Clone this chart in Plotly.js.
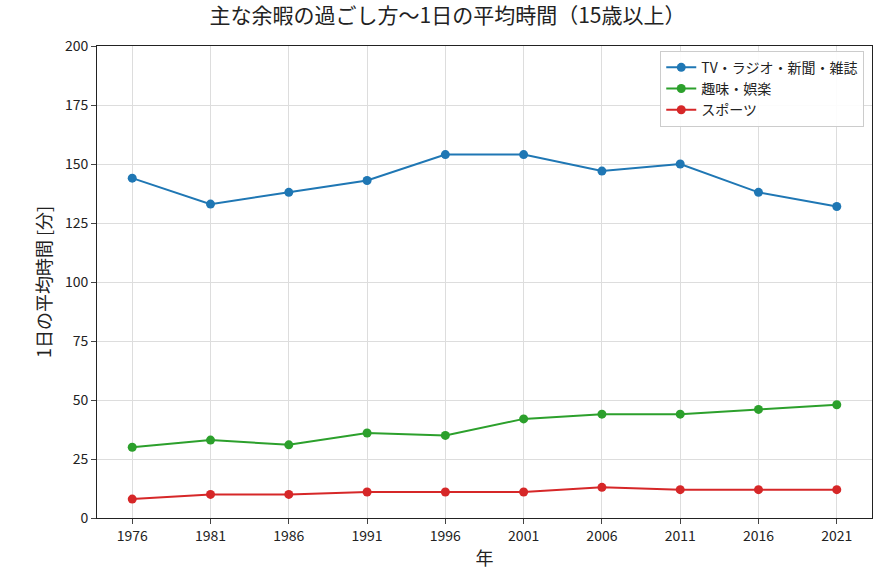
<!DOCTYPE html>
<html><head><meta charset="utf-8">
<script src="https://cdn.plot.ly/plotly-3.0.1.min.js"></script>
<style>body{margin:0}</style></head><body>
<div id="c" style="width:895px;height:583px"></div>
<script>
const years=[1976,1981,1986,1991,1996,2001,2006,2011,2016,2021];
const tv=[144,133,138,143,154,154,147,150,138,132];
const hobby=[30,33,31,36,35,42,44,44,46,48];
const sports=[8,10,10,11,11,11,13,12,12,12];
const names=["TV・ラジオ・新聞・雑誌","趣味・娯楽","スポーツ"];
const colors=["#1f77b4","#2ca02c","#d62728"];
const font="Noto Sans CJK JP, sans-serif";
const traces=[tv,hobby,sports].map((v,i)=>({x:years,y:v,name:names[i],mode:"lines+markers",
 line:{color:colors[i],width:2},marker:{color:colors[i],size:9}}));
Plotly.newPlot("c",traces,{
 width:895,height:583,margin:{l:97,r:23,t:46,b:65},
 font:{family:font,size:14,color:"#222"},
 title:{text:"主な余暇の過ごし方〜1日の平均時間（15歳以上）",x:0.5,y:0.985,yanchor:"top",font:{size:21,color:"#222"}},
 xaxis:{title:{text:"年",font:{size:18},standoff:8},tickvals:years,range:[1973.75,2023.25],showgrid:true,gridcolor:"#ddd",
  showline:true,mirror:true,linecolor:"#222",ticks:"outside",zeroline:false},
 yaxis:{title:{text:"1日の平均時間 [分]",font:{size:18}},range:[0,200],dtick:25,showgrid:true,gridcolor:"#ddd",
  showline:true,mirror:true,linecolor:"#222",ticks:"outside",zeroline:false},
 legend:{x:0.99,y:0.99,xanchor:"right",yanchor:"top",bgcolor:"rgba(255,255,255,0.9)",bordercolor:"#ccc",borderwidth:1,font:{size:14}},
 plot_bgcolor:"#fff"
},{displayModeBar:false});
</script></body></html>
